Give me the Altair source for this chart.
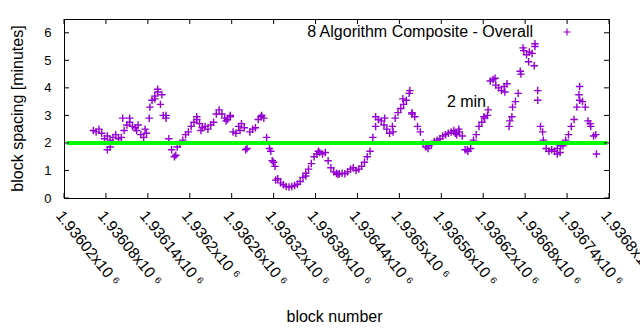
import altair as alt
import pandas as pd

# ---- data ----
blocks_main = list(range(1936062, 1936786, 4))
spacing_main = [
    2.45, 2.4, 2.5, 2.35, 2.15, 2.25, 2.1, 2.2, 2.3, 2.15,
    2.2, 2.45, 2.65, 2.75, 2.6, 2.55, 2.65, 2.3, 2.2, 2.35,
    2.9, 3.55, 3.7, 3.85, 3.4, 3.0, 2.9, 2.15, 1.75, 1.5,
    1.85, 1.95, 2.1, 2.3, 2.4, 2.6, 2.75, 2.85, 2.7, 2.55,
    2.6, 2.5, 2.65, 2.75, 3.05, 3.2, 3.05, 2.9, 2.85, 2.95,
    2.4, 2.35, 2.6, 2.7, 2.55, 1.8, 2.4, 2.5, 2.55, 2.85,
    2.95, 2.9, 2.2, 1.8, 1.35, 1.15, 0.7, 0.55, 0.48, 0.42,
    0.4, 0.42, 0.45, 0.5, 0.6, 0.75, 0.9, 1.05, 1.25, 1.5,
    1.6, 1.65, 1.6, 1.65, 1.35, 1.1, 0.95, 0.9, 0.88, 0.9,
    0.88, 0.95, 1.05, 1.1, 1.0, 1.05, 1.15, 1.3, 1.5, 1.7,
    2.2, 2.6, 2.85, 2.8, 2.65, 2.5, 2.35, 2.6, 2.9, 3.1,
    3.25, 3.4, 3.55, 3.8, 3.05, 2.95, 2.6, 2.4, 2.0, 1.85,
    1.9, 1.95, 2.05, 2.1, 2.15, 2.25, 2.3, 2.35, 2.4, 2.45,
    2.3, 2.4, 2.25, 1.75, 1.7, 1.8, 2.1, 2.3, 2.6, 2.75,
    2.9, 3.0, 4.25, 4.3, 4.1, 4.0, 3.9, 4.05, 4.15, 2.8,
    3.3, 3.5, 3.8, 4.5, 5.35, 5.2, 5.3, 5.25, 5.5, 3.9,
    2.6, 2.1, 1.8, 1.7, 1.75, 1.7, 1.8, 1.65, 1.9, 2.1,
    2.3, 2.6, 2.85, 3.3, 3.55, 3.5, 3.3, 2.8, 2.6, 2.25,
    1.6,
]
blocks_extra = [
    1936082, 1936086, 1936104, 1936114, 1936124, 1936136, 1936143, 1936150,
    1936154, 1936160, 1936166, 1936180, 1936210, 1936216, 1936252, 1936258,
    1936272, 1936280, 1936303, 1936316, 1936320, 1936323, 1936366, 1936384,
    1936412, 1936466, 1936479, 1936491, 1936505, 1936515, 1936518, 1936541,
    1936580, 1936585, 1936597, 1936621, 1936627, 1936637, 1936651, 1936657,
    1936661, 1936673, 1936677, 1936685, 1936693, 1936694, 1936698, 1936705,
    1936726, 1936731, 1936758, 1936757, 1936773, 1936781,
]
spacing_extra = [
    1.75, 1.85, 2.9, 2.9, 2.45, 2.5, 3.3, 3.6,
    3.95, 3.75, 3.0, 1.55, 2.95, 2.45, 2.8, 3.0,
    2.45, 1.75, 3.0, 1.7, 1.3, 0.65, 0.8, 1.7,
    0.85, 2.95, 2.9, 2.4, 3.6, 3.9, 3.1, 1.8,
    2.35, 2.5, 1.75, 2.95, 3.2, 4.35, 3.85, 2.6,
    2.95, 4.6, 5.45, 4.95, 4.8, 5.6, 3.55, 2.4,
    1.6, 1.9, 4.05, 3.75, 2.7, 2.3,
]
x_ticks = [1936020, 1936080, 1936140, 1936200, 1936260, 1936320, 1936380,
           1936440, 1936500, 1936560, 1936620, 1936680, 1936740, 1936800]
y_ticks = [0, 1, 2, 3, 4, 5, 6]
target_minutes = 2
series_label = "8 Algorithm Composite - Overall"
target_label = "2 min"
target_label_block = 1936568
target_label_value = 3.5

W, H = 545, 179
PURPLE = "#9400d3"
GREEN = "#00ff00"
FONT = "Liberation Sans"
PLUS = "M-1,0L1,0M0,-1L0,1"

pts = pd.DataFrame({
    "block": blocks_main + blocks_extra,
    "spacing": spacing_main + spacing_extra,
})

xs = alt.Scale(domain=[1936020, 1936800], nice=False, zero=False)
ys = alt.Scale(domain=[0, 6.5], nice=False, zero=True)

x_axis = alt.Axis(
    title="block number", values=x_ticks,
    labelExpr="format(datum.value / 1000000, '.6~g') + 'x10 ⁶'",
    labelAngle=51, labelAlign="left", labelBaseline="top", labelPadding=10,
    labelFontSize=15.5, labelOverlap=False, labelFlush=False, labelBound=False,
    tickSize=0, domain=False, grid=False,
    titleFontSize=16, titleFontWeight="normal", titleX=270, titleY=118,
    titleBaseline="middle", titleAlign="center",
)
y_axis = alt.Axis(
    title="block spacing [minutes]", values=y_ticks, format="d",
    labelFontSize=13, labelPadding=13, tickSize=0, domain=False, grid=False,
    titleFontSize=16, titleFontWeight="normal", titleX=-47, titleY=89,
    titleBaseline="middle", titleAlign="center", titleAngle=270,
)

X = alt.X("block:Q", scale=xs, axis=x_axis)
Y = alt.Y("spacing:Q", scale=ys, axis=y_axis)

points = alt.Chart(pts).mark_point(
    shape=PLUS, size=56, strokeWidth=1.4, filled=False, color=PURPLE, opacity=1
).encode(x=X, y=Y)

target = alt.Chart(pd.DataFrame({"spacing": [target_minutes]})).mark_rule(
    color=GREEN, strokeWidth=4
).encode(y=Y, x=alt.value(3), x2=alt.value(W - 2))

target_text = alt.Chart(pd.DataFrame({
    "block": [target_label_block], "spacing": [target_label_value], "label": [target_label]
})).mark_text(align="left", baseline="middle", fontSize=16, font=FONT, color="black").encode(
    x=X, y=Y, text="label:N",
)

key_df = pd.DataFrame({"label": [series_label]})
key_text = alt.Chart(key_df).mark_text(
    align="right", baseline="middle", fontSize=16, font=FONT, color="black"
).encode(x=alt.value(469), y=alt.value(13), text="label:N")
key_mark = alt.Chart(key_df).mark_point(
    shape=PLUS, size=49, strokeWidth=1.2, filled=False, color=PURPLE, opacity=1
).encode(x=alt.value(503), y=alt.value(13))

tx = pd.DataFrame({"block": x_ticks})
ty = pd.DataFrame({"spacing": y_ticks})
tick_b = alt.Chart(tx).mark_rule(color="black", strokeWidth=1).encode(
    x=X, y=alt.value(H), y2=alt.value(H - 5))
tick_t = alt.Chart(tx).mark_rule(color="black", strokeWidth=1).encode(
    x=X, y=alt.value(0), y2=alt.value(5))
tick_l = alt.Chart(ty).mark_rule(color="black", strokeWidth=1).encode(
    y=Y, x=alt.value(0), x2=alt.value(5))
tick_r = alt.Chart(ty).mark_rule(color="black", strokeWidth=1).encode(
    y=Y, x=alt.value(W - 5), x2=alt.value(W))

chart = alt.layer(
    points, target, target_text, key_text, key_mark, tick_b, tick_t, tick_l, tick_r
).properties(
    width=W, height=H,
    autosize=alt.AutoSizeParams(type="none"),
    padding={"left": 64, "top": 19, "right": 31, "bottom": 132},
    background="white",
).configure_view(
    stroke="black", strokeWidth=1
).configure_axis(
    labelFont=FONT, titleFont=FONT, labelColor="black", titleColor="black"
)

chart.save("out.html", embed_options={"renderer": "svg", "actions": False})
